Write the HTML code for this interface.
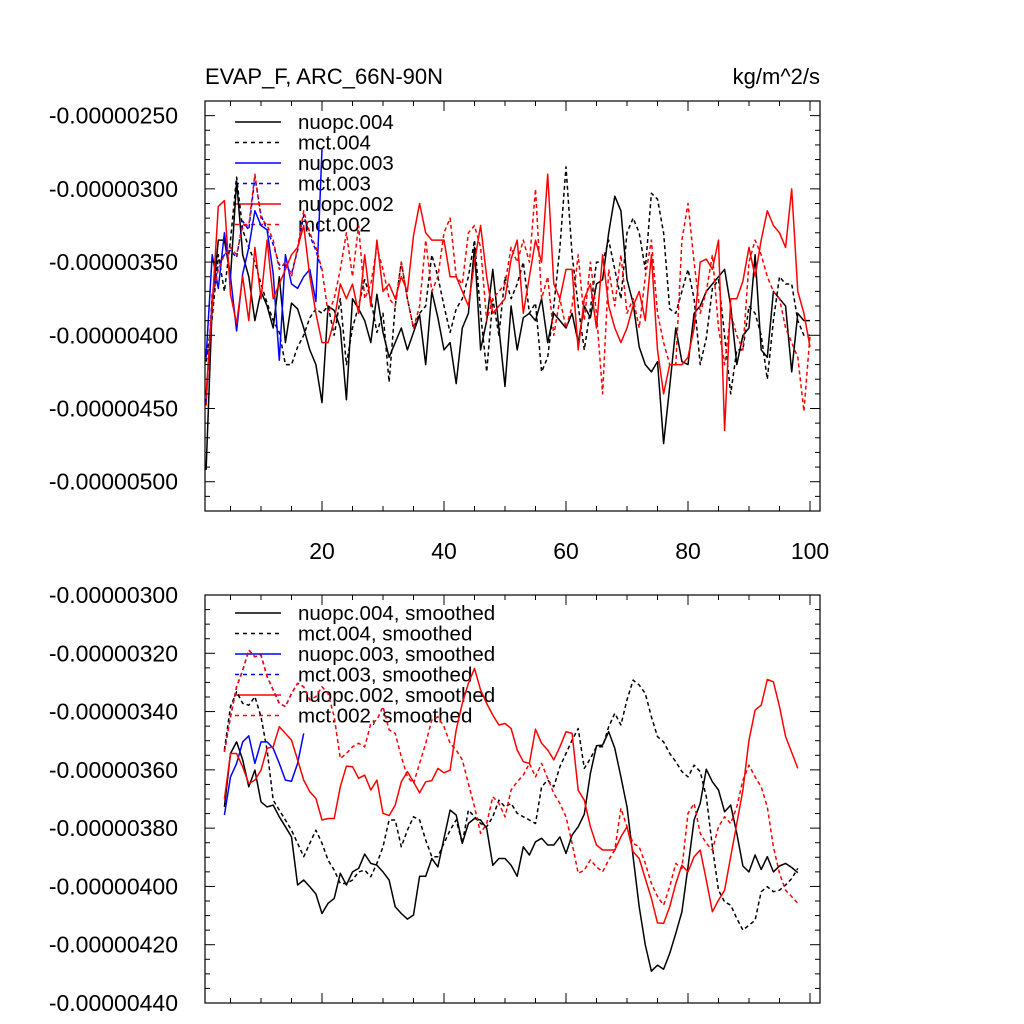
<!DOCTYPE html>
<html><head><meta charset="utf-8"><style>
html,body{margin:0;padding:0;background:#fff}
svg{display:block;font-family:"Liberation Sans",sans-serif}
</style></head><body>
<svg id="chart" width="1024" height="1024" viewBox="0 0 1024 1024"></svg>
<script>
// values in units of 1e-8 kg/m^2/s (magnitude; plotted as negative)
const xTicks=[20,40,60,80,100];
const topYTicks=[250,300,350,400,450,500];
const botYTicks=[300,320,340,360,380,400,420,440];
const nuopc004=[492,380,335,335,360,295,345,360,390,370,380,395,360,405,378,382,395,410,420,446,380,383,395,444,375,382,390,405,372,398,415,405,395,410,398,386,420,370,388,410,405,433,395,385,340,410,390,355,395,435,380,410,388,385,390,375,405,385,390,395,385,405,380,388,365,362,330,305,315,362,378,408,420,425,418,474,435,395,418,420,385,380,370,365,360,355,380,420,400,395,345,410,415,370,375,380,425,385,390,390];
const mct004=[418,388,345,370,335,292,328,340,350,365,378,390,398,420,420,408,400,388,382,385,380,400,375,420,395,380,362,375,398,385,432,380,350,375,395,385,380,345,360,380,398,382,375,360,335,385,425,375,400,360,375,365,350,385,378,425,415,380,340,285,345,380,410,382,350,350,335,355,375,330,320,330,355,303,307,330,382,385,370,355,375,420,402,368,362,400,440,410,410,380,385,400,430,390,360,365,365,390,400,400];
const nuopc003=[415,345,368,330,360,397,358,340,315,325,328,358,417,345,365,368,360,355,377,273];
const mct003=[446,372,352,345,342,347,322,328,292,318,328,338,352,352,358,342,318,332,342,356];
const nuopc002=[440,380,312,308,372,392,360,390,340,375,335,375,365,355,345,340,325,360,385,405,405,390,365,375,365,385,345,380,335,370,365,375,360,370,332,310,330,335,335,335,360,360,370,380,350,325,360,385,380,375,348,335,385,360,335,350,290,365,375,355,355,410,375,365,395,345,380,395,405,395,380,370,390,345,410,440,420,420,420,415,395,350,348,355,335,465,375,375,363,340,360,335,315,325,330,340,300,370,385,408];
const mct002=[448,375,355,345,340,345,325,325,290,320,325,335,355,350,360,340,315,330,340,355,385,375,355,330,360,325,375,365,340,355,375,380,350,375,395,380,335,370,360,330,320,360,365,330,325,340,390,375,370,365,340,350,335,350,300,375,360,400,375,395,380,345,390,350,385,440,355,380,345,385,375,395,360,335,385,405,420,420,335,310,350,385,370,345,395,420,385,400,410,350,335,345,360,370,375,395,405,415,452,400];
const sm_nuopc004=[372.7,354.4,350.4,356.6,365.8,360.1,371.0,372.7,372.1,376.1,379.5,383.0,399.5,397.8,400.1,402.6,409.3,405.8,404.1,395.5,399.5,395.0,393.8,388.9,392.1,392.7,395.0,397.8,407.0,409.3,411.2,409.8,396.5,396.5,390.4,393.3,383.5,373.8,375.5,385.2,378.4,376.7,377.2,380.1,392.7,390.4,390.4,392.7,396.5,386.4,389.2,384.7,383.5,385.8,385.8,383.0,388.7,382.4,379.5,375.2,361.2,351.7,351.5,346.9,352.6,362.4,372.7,389.8,407.0,420.1,429.1,427.0,428.4,423.0,416.1,408.7,393.3,377.2,371.5,359.8,364.1,366.9,374.4,372.1,381.8,393.0,395.0,389.2,394.2,389.8,395.0,393.0,392.1,393.5,395.3];
const sm_mct004=[353.2,338.3,333.2,337.2,337.8,334.9,341.8,353.2,370.4,373.8,377.2,380.7,385.2,389.8,385.2,380.7,385.2,391.0,394.4,399.0,399.0,397.8,395.0,394.4,396.7,392.1,386.4,377.2,377.2,386.4,380.7,376.1,377.2,384.1,389.8,389.8,385.2,380.7,377.2,385.2,373.8,376.1,378.4,379.5,376.1,370.4,372.7,371.5,374.9,376.1,377.2,378.4,365.8,363.5,365.8,358.9,354.4,349.8,345.8,359.5,356.1,352.1,352.1,345.2,340.6,344.6,336.0,329.2,330.9,333.8,341.8,348.6,350.4,354.4,357.2,360.6,362.4,358.4,360.6,369.2,386.4,401.3,405.3,406.4,411.0,415.0,413.3,411.6,401.8,400.1,401.8,401.3,399.5,397.3,393.8];
const sm_nuopc003=[375.5,362.4,357.8,350.4,348.3,357.8,350.4,350.4,352.6,357.8,363.5,363.9,357.8,347.5];
const sm_mct003=[353.8,341.8,331.5,325.8,318.9,321.2,320.6,328.0,332.6,337.2,338.3,333.8,330.3,331.5];
const sm_nuopc002=[370.1,354.4,354.4,359.0,364.7,363.5,360.1,352.6,352.1,345.2,347.5,349.8,356.6,363.5,367.5,369.8,377.2,376.7,376.7,365.8,358.7,358.9,362.9,361.8,366.9,363.5,374.9,375.7,372.1,364.1,360.6,364.1,367.9,364.1,363.7,359.5,361.0,360.1,346.3,337.2,330.3,325.2,332.6,337.2,341.2,344.6,344.1,345.8,353.2,357.2,357.8,346.1,350.9,353.2,356.6,352.1,346.9,347.5,367.0,370.4,379.5,385.8,387.5,387.5,387.5,383.0,379.5,388.1,390.4,397.3,404.1,412.5,412.7,407.0,399.0,392.7,395.0,389.8,387.5,397.8,408.7,404.7,401.3,389.8,378.4,366.9,349.8,339.5,337.8,329.0,329.8,338.3,348.6,354,359.5];
const sm_mct002=[353.8,341.8,331.5,325.8,318.9,321.2,320.6,328.0,332.6,337.2,338.3,333.8,330.3,331.5,336.0,334.9,331.5,333.8,341.8,356.1,354.4,352.1,350.9,352.1,344.1,342.9,338.3,346.3,347.5,355.5,362.4,364.7,357.8,350.9,342.9,341.8,345.2,350.9,353.2,356.6,364.7,372.7,381.8,378.4,369.2,371.5,376.1,366.9,364.1,361.8,357.8,362.4,357.8,362.9,368.1,371.5,376.1,385.2,395.5,394.4,390.9,393.3,395.0,390.9,387.5,373.2,379.5,385.2,386.4,392.1,399.0,403.5,406.4,400.1,392.1,393.8,374.9,371.5,381.8,385.2,387.5,379.5,376.1,378.4,372.7,363.5,358.4,362.4,365.8,372.7,386.4,395.5,401.3,403.5,405.8];

const NS='http://www.w3.org/2000/svg';
const svg=document.getElementById('chart');
function el(tag,attrs,parent){const e=document.createElementNS(NS,tag);for(const k in attrs)e.setAttribute(k,attrs[k]);(parent||svg).appendChild(e);return e;}
const L=205,R=820;
function xs(x){return 322+(x-20)*6.1;}
function fmt(v){return '-'+(v/1e8).toFixed(8);}

function panel(name,top,bot,vmin,vmax,yTicks,minorStep,xLabels,legendY,series,legendSuffix){
  const g=el('g',{});
  
  
  const ys=v=>top+(v-vmin)/(vmax-vmin)*(bot-top);
  const lg=el('g',{},g);
  
  
  series.forEach((s,i)=>{
    const y=legendY+i*20.5;
    const ln=el('line',{x1:235,x2:281,y1:y,y2:y,stroke:s.c,'stroke-width':1.4,'stroke-dasharray':s.d?'4,4':'none'},lg);
    
    
    const t=el('text',{x:298,y:y+7,'font-size':20.5,fill:'#000'},lg);
    t.textContent=s.n+legendSuffix;
    
    
  });
  series.forEach(s=>{
    const pts=s.v.map((v,i)=>xs(s.x0+i).toFixed(1)+','+ys(v).toFixed(1)).join(' ');
    const p=el('polyline',{points:pts,fill:'none',stroke:s.c,'stroke-width':1.5,'stroke-dasharray':s.d?'4,3':'none','stroke-linejoin':'round'},g);
    
    
  });
  const fr=el('rect',{x:L,y:top,width:R-L,height:bot-top,fill:'none',stroke:'#000','stroke-width':1.2},g);
  
  
  for(let v=vmin;v<=vmax+0.01;v+=minorStep){
    const y=ys(v);
    const major=yTicks.some(t=>Math.abs(t-v)<0.01);
    const len=major?10:5;
    el('line',{x1:L,x2:L+len,y1:y,y2:y,stroke:'#000','stroke-width':1},g);
    el('line',{x1:R,x2:R-len,y1:y,y2:y,stroke:'#000','stroke-width':1},g);
  }
  yTicks.forEach(v=>{
    const t=el('text',{x:178,y:ys(v)+8,'font-size':23,'text-anchor':'end'},g);
    t.textContent=fmt(v);
    
    
  });
  for(let x=5;x<=100;x+=5){
    const px=xs(x);
    const major=xTicks.includes(x);
    const len=major?10:5;
    el('line',{x1:px,x2:px,y1:bot,y2:bot-len,stroke:'#000','stroke-width':1},g);
    el('line',{x1:px,x2:px,y1:top,y2:top+len,stroke:'#000','stroke-width':1},g);
  }
  if(xLabels) xTicks.forEach(x=>{
    const t=el('text',{x:xs(x),y:bot+48,'font-size':23,'text-anchor':'middle'},g);
    t.textContent=x;
    
    
  });
}

panel('top-panel',101,511,240,520,topYTicks,10,true,122,[
  {n:'nuopc.004',v:nuopc004,c:'#000',d:false,x0:1},
  {n:'mct.004',v:mct004,c:'#000',d:true,x0:1},
  {n:'nuopc.003',v:nuopc003,c:'#0000ff',d:false,x0:1},
  {n:'mct.003',v:mct003,c:'#0000ff',d:true,x0:1},
  {n:'nuopc.002',v:nuopc002,c:'#ff0000',d:false,x0:1},
  {n:'mct.002',v:mct002,c:'#ff0000',d:true,x0:1}
],'');
panel('bottom-panel',595,1003,300,440,botYTicks,5,false,613,[
  {n:'nuopc.004',v:sm_nuopc004,c:'#000',d:false,x0:4},
  {n:'mct.004',v:sm_mct004,c:'#000',d:true,x0:4},
  {n:'nuopc.003',v:sm_nuopc003,c:'#0000ff',d:false,x0:4},
  {n:'mct.003',v:sm_mct003,c:'#0000ff',d:true,x0:4},
  {n:'nuopc.002',v:sm_nuopc002,c:'#ff0000',d:false,x0:4},
  {n:'mct.002',v:sm_mct002,c:'#ff0000',d:true,x0:4}
],', smoothed');

const t1=el('text',{x:205,y:84,'font-size':22});
t1.textContent='EVAP_F, ARC_66N-90N';


const t2=el('text',{x:820,y:84,'font-size':22,'text-anchor':'end'});
t2.textContent='kg/m^2/s';


</script>
</body></html>
